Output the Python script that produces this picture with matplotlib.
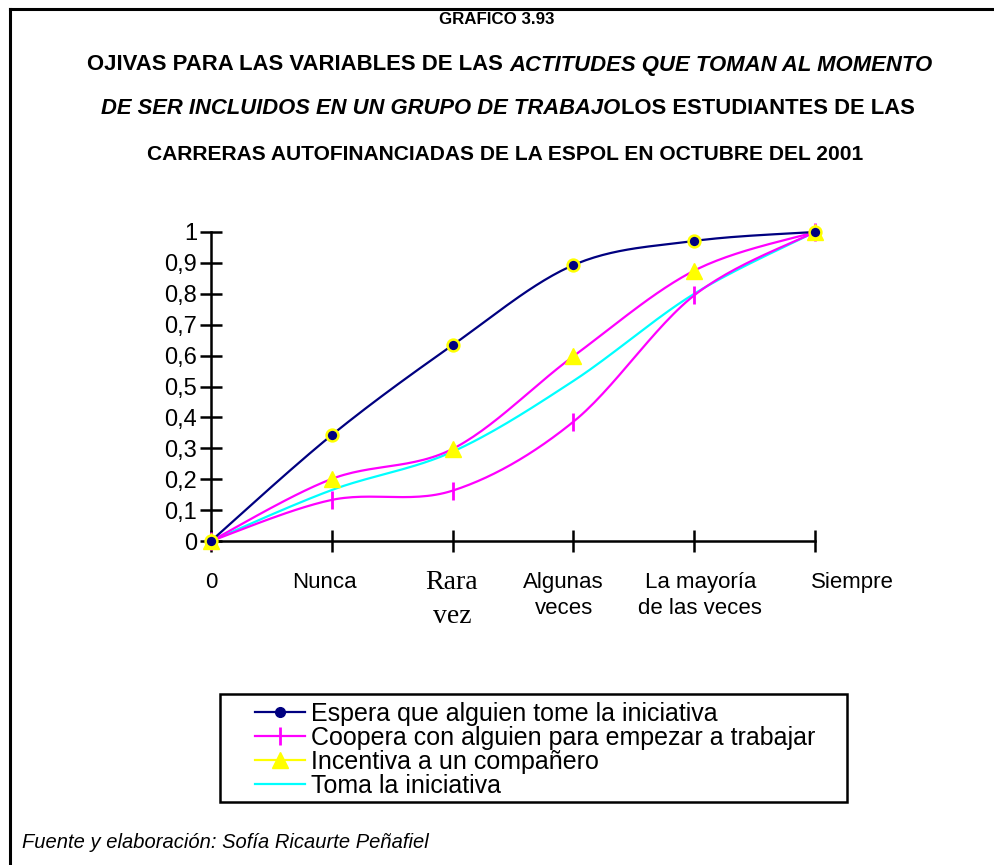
import numpy as np
import matplotlib
matplotlib.use("Agg")
import matplotlib.pyplot as plt
from matplotlib.lines import Line2D
from matplotlib.patches import Rectangle

plt.rcParams['font.family'] = ['Liberation Sans', 'DejaVu Sans']

# data
categories = ['0', 'Nunca', 'Rara\nvez', 'Algunas\nveces', 'La mayoría\nde las veces', 'Siempre']
espera = [0, 0.343, 0.634, 0.893, 0.971, 1.0]
coopera = [0, 0.133, 0.163, 0.386, 0.795, 1.0]
incentiva = [0, 0.201, 0.298, 0.598, 0.875, 1.0]
toma = [0, 0.165, 0.289, 0.518, 0.80, 1.0]
yticks = [0, 0.1, 0.2, 0.3, 0.4, 0.5, 0.6, 0.7, 0.8, 0.9, 1]
ytick_labels = ['0', '0,1', '0,2', '0,3', '0,4', '0,5', '0,6', '0,7', '0,8', '0,9', '1']


def smooth(y, n=30):
    # Excel-style smoothed line (Catmull-Rom) drawn through the points
    x = np.arange(len(y), dtype=float)
    y = np.asarray(y, dtype=float)
    px = np.concatenate([[x[0]], x, [x[-1]]])
    py = np.concatenate([[y[0]], y, [y[-1]]])
    xs, ys = [], []
    t = np.linspace(0, 1, n)
    for i in range(1, len(px) - 2):
        for p, out in ((px, xs), (py, ys)):
            p0, p1, p2, p3 = p[i - 1], p[i], p[i + 1], p[i + 2]
            m1 = (p2 - p0) / 6.0
            m2 = (p3 - p1) / 6.0
            b = ((1 - t) ** 3 * p1 + 3 * (1 - t) ** 2 * t * (p1 + m1)
                 + 3 * (1 - t) * t ** 2 * (p2 - m2) + t ** 3 * p2)
            out.extend(b)
    return np.array(xs), np.array(ys)


fig = plt.figure(figsize=(9.95, 8.65), dpi=100)
W, H = 995, 865
ax = fig.add_axes([211 / W, 1 - 541 / H, 604 / W, 309 / H])

x = np.arange(len(categories))
navy, mag, yel, cyan = '#000080', '#FF00FF', '#FFFF00', '#00FFFF'

ax.plot(*smooth(toma), color=cyan, lw=1.6, clip_on=False, zorder=2)
ax.plot(*smooth(coopera), color=mag, lw=1.6, clip_on=False, zorder=3)
ax.plot(x, coopera, ls='none', marker='|', ms=13, mew=2, color=mag, clip_on=False, zorder=4)
ax.plot(*smooth(incentiva), color=mag, lw=1.6, clip_on=False, zorder=3)
ax.plot(x, incentiva, ls='none', marker='^', ms=12, color=yel, mec=yel, clip_on=False, zorder=5)
ax.plot(*smooth(espera), color=navy, lw=1.6, clip_on=False, zorder=4)
ax.plot(x, espera, ls='none', marker='o', ms=8.5, color=navy, mec=yel, mew=1.8, clip_on=False, zorder=6)

ax.set_xlim(0, 5)
ax.set_ylim(0, 1)
for s in ['top', 'right']:
    ax.spines[s].set_visible(False)
for s in ['left', 'bottom']:
    ax.spines[s].set_linewidth(1.8)
    ax.spines[s].set_color('black')
ax.set_yticks(yticks)
ax.set_yticklabels(ytick_labels, fontsize=17)
ax.tick_params(axis='y', direction='inout', length=16, width=1.8, pad=2)
ax.set_xticks(x)
ax.set_xticklabels([])
ax.tick_params(axis='x', direction='inout', length=16, width=1.8)

# category labels (Excel placed them slightly off the ticks)
label_x = [0, 0.94, 1.995, 2.92, 4.05, 5.31]
for i, lab in enumerate(categories):
    if i == 2:
        ax.text(label_x[i], -0.095, lab, ha='center', va='top', fontsize=20,
                family='Liberation Serif', linespacing=1.45)
    else:
        ax.text(label_x[i], -0.1, lab, ha='center', va='top', fontsize=16,
                linespacing=1.3)

# frame lines
fig.add_artist(Line2D([10 / W, 10 / W], [0, 1 - 9 / H], color='black', lw=2.2))
fig.add_artist(Line2D([10 / W, 1], [1 - 9 / H, 1 - 9 / H], color='black', lw=2.2))

# titles with mixed italic pieces
def line_of(pieces, y_px, size, cx=497):
    fig.canvas.draw()
    r = fig.canvas.get_renderer()
    texts = []
    for s, it in pieces:
        t = fig.text(0, 1 - y_px / H, s, fontsize=size, fontweight='bold',
                     style='italic' if it else 'normal', va='center', ha='left')
        texts.append(t)
    widths = [t.get_window_extent(r).width for t in texts]
    total = sum(widths)
    xpos = cx - total / 2
    for t, w in zip(texts, widths):
        t.set_x(xpos / W)
        xpos += w

line_of([('GRAFICO 3.93', False)], 20, 12.2)
line_of([('OJIVAS PARA LAS VARIABLES DE LAS ', False),
         ('ACTITUDES QUE TOMAN AL MOMENTO', True)], 65, 15.9, 510)
line_of([('DE SER INCLUIDOS EN UN GRUPO DE TRABAJO', True),
         ('LOS ESTUDIANTES DE LAS', False)], 109, 15.8, 508)
line_of([('CARRERAS AUTOFINANCIADAS DE LA ESPOL EN OCTUBRE DEL 2001', False)], 154, 15.1, 505)

# legend
fig.add_artist(Rectangle((220 / W, 1 - 802 / H), 627 / W, 108 / H, transform=fig.transFigure,
                         fill=False, edgecolor='black', lw=1.8))
handles = [
    Line2D([], [], color=navy, lw=1.6, marker='o', ms=7, mfc=navy, mec=navy),
    Line2D([], [], color=mag, lw=1.6, marker='|', ms=13, mew=2),
    Line2D([], [], color=yel, lw=1.6, marker='^', ms=11, mfc=yel, mec=yel),
    Line2D([], [], color=cyan, lw=1.6),
]
labels = ['Espera que alguien tome la iniciativa',
          'Coopera con alguien para empezar a trabajar',
          'Incentiva a un compañero',
          'Toma la iniciativa']
leg = fig.legend(handles, labels, loc='upper left', bbox_to_anchor=(255 / W, 1 - 702 / H),
                 fontsize=18, frameon=False, handlelength=2.0, handletextpad=0.25,
                 labelspacing=0.0, borderpad=0, borderaxespad=0)

fig.text(22 / W, 1 - 842 / H, 'Fuente y elaboración: Sofía Ricaurte Peñafiel',
         fontsize=14.5, style='italic', va='center', ha='left')

fig.savefig('out.png', dpi=100)
